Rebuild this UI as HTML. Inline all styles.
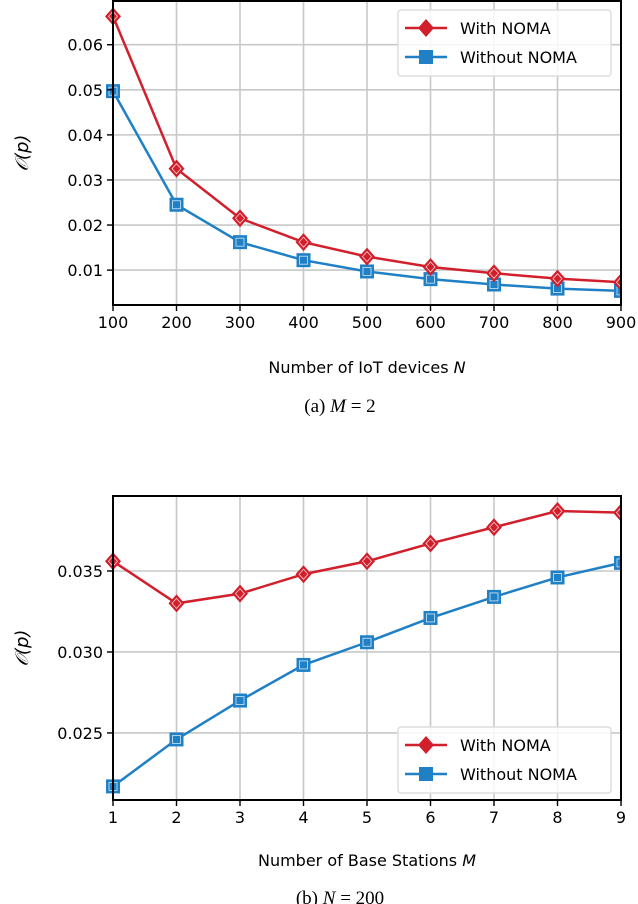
<!DOCTYPE html>
<html><head><meta charset="utf-8"><style>
body{margin:0;background:#fff;width:638px;height:904px;overflow:hidden}
svg{display:block;font-family:"DejaVu Sans","Liberation Sans",sans-serif}
</style></head><body>
<svg id="fig" width="638" height="904" viewBox="0 0 638 904" xmlns="http://www.w3.org/2000/svg"></svg>
<script>
// Chart (a)
const catsA = [100,200,300,400,500,600,700,800,900];
const withA = [0.0663,0.0325,0.0215,0.0162,0.0130,0.0107,0.0093,0.0081,0.0073];
const withoutA = [0.0497,0.0245,0.0162,0.0122,0.0097,0.0080,0.0068,0.0059,0.0054];
const yTicksA = [0.01,0.02,0.03,0.04,0.05,0.06];
const yLabelsA = ["0.01","0.02","0.03","0.04","0.05","0.06"];
// Chart (b)
const catsB = [1,2,3,4,5,6,7,8,9];
const withB = [0.0356,0.0330,0.0336,0.0348,0.0356,0.0367,0.0377,0.0387,0.0386];
const withoutB = [0.0217,0.0246,0.0270,0.0292,0.0306,0.0321,0.0334,0.0346,0.0355];
const yTicksB = [0.025,0.030,0.035];
const yLabelsB = ["0.025","0.030","0.035"];

const NS="http://www.w3.org/2000/svg";
const svg=document.getElementById('fig');
const RED="#d21f2c", BLUE="#1f80c6";
function mk(tag,attrs,parent){const e=document.createElementNS(NS,tag);for(const k in attrs)e.setAttribute(k,attrs[k]);(parent||svg).appendChild(e);return e;}

function chart(o){
  const g=mk('g',{});
  
  
  const L=113,R=621,T=o.top,B=o.bottom;
  const xs=v=>L+(v-o.xmin)/(o.xmax-o.xmin)*(R-L);
  const ys=v=>B-(v-o.ymin)/(o.ymax-o.ymin)*(B-T);
  o.cats.forEach(c=>{const l=mk('line',{x1:xs(c),x2:xs(c),y1:T,y2:B,stroke:'#c8c8c8','stroke-width':1.6},g);
    });
  o.yt.forEach(v=>{const l=mk('line',{x1:L,x2:R,y1:ys(v),y2:ys(v),stroke:'#c8c8c8','stroke-width':1.6},g);
    });
  const clip='clip'+o.name;
  const cp=mk('clipPath',{id:clip},g);mk('rect',{x:L-10,y:T-1,width:R-L+11,height:B-T+2},cp);
  const sw=mk('g',{'clip-path':`url(#${clip})`},g);
  
  const drawInto=(vals,color,marker,nm)=>{const tmp=mk('g',{},sw);
    const pts=o.cats.map((c,i)=>xs(c)+','+ys(vals[i])).join(' ');
    const pl=mk('polyline',{points:pts,fill:'none',stroke:color,'stroke-width':2.5},tmp);
    
    o.cats.forEach((c,i)=>{const x=xs(c),y=ys(vals[i]);let m;
      if(marker==='d'){m=mk('polygon',{points:`${x},${y-9} ${x+8},${y} ${x},${y+9} ${x-8},${y}`,fill:color},tmp);
        mk('polygon',{points:`${x},${y-5} ${x+4.5},${y} ${x},${y+5} ${x-4.5},${y}`,fill:'none',stroke:'#fff','stroke-width':0.8,opacity:0.8},tmp);}
      else{m=mk('rect',{x:x-7,y:y-7,width:14,height:14,fill:color},tmp);
        mk('rect',{x:x-4,y:y-4,width:8,height:8,fill:'none',stroke:'#fff','stroke-width':0.8,opacity:0.8},tmp);}
      });
  };
  drawInto(o.wo,BLUE,'s','without-noma-line');
  drawInto(o.w,RED,'d','with-noma-line');
  const fr=mk('rect',{x:L,y:T,width:R-L,height:B-T,fill:'none',stroke:'#000','stroke-width':2},g);
  
  o.cats.forEach(c=>{mk('line',{x1:xs(c),x2:xs(c),y1:B,y2:B+6,stroke:'#000','stroke-width':1.4},g);
    const t=mk('text',{x:xs(c),y:B+23,'font-size':16,'text-anchor':'middle',fill:'#000'},g);t.textContent=c;
    });
  o.yt.forEach((v,i)=>{mk('line',{x1:L-6,x2:L,y1:ys(v),y2:ys(v),stroke:'#000','stroke-width':1.4},g);
    const t=mk('text',{x:L-10,y:ys(v)+6,'font-size':16,'text-anchor':'end',fill:'#000'},g);t.textContent=o.yl[i];
    });
  const xt=mk('text',{x:(L+R)/2,y:o.xtY,'font-size':16,'text-anchor':'middle'},g);
  xt.innerHTML=o.xtitle+' <tspan font-style="italic">'+o.xvar+'</tspan>';
  
  const yc=(T+B)/2;
  const yt=mk('text',{x:0,y:0,'font-size':18,'text-anchor':'middle','font-style':'italic',transform:`translate(28,${yc}) rotate(-90)`},g);
  yt.textContent='𝒪(p)';
  
  const lg=mk('g',{},g);
  mk('rect',{x:398,y:o.legY,width:213,height:66,rx:3,fill:'#fff','fill-opacity':0.85,stroke:'#ddd','stroke-width':1.5},lg);
  [[RED,'d','With NOMA',o.legY+18],[BLUE,'s','Without NOMA',o.legY+47]].forEach(([c,m,lab,y])=>{
    const e=mk('g',{},lg);
    mk('line',{x1:405,x2:447,y1:y,y2:y,stroke:c,'stroke-width':2.5},e);
    if(m==='d'){mk('polygon',{points:`426,${y-9} 434,${y} 426,${y+9} 418,${y}`,fill:c},e);}
    else mk('rect',{x:419,y:y-7,width:14,height:14,fill:c},e);
    const t=mk('text',{x:460,y:y+6,'font-size':16},e);t.textContent=lab;
  });
  const cap=mk('text',{x:340,y:o.capY,'font-size':19,'text-anchor':'middle','font-family':'Liberation Serif, serif'},g);
  cap.innerHTML=o.cap;
  
}
chart({name:'chart-a',top:1,bottom:305,xmin:100,xmax:900,ymin:0.00226,ymax:0.0697,cats:catsA,w:withA,wo:withoutA,yt:yTicksA,yl:yLabelsA,
  xtitle:'Number of IoT devices',xvar:'N',xtY:373,legY:10,capY:412,cap:'(a) <tspan font-style="italic">M</tspan> = 2'});
chart({name:'chart-b',top:496,bottom:800,xmin:1,xmax:9,ymin:0.02086,ymax:0.03963,cats:catsB,w:withB,wo:withoutB,yt:yTicksB,yl:yLabelsB,
  xtitle:'Number of Base Stations',xvar:'M',xtY:866,legY:727,capY:904,cap:'(b) <tspan font-style="italic">N</tspan> = 200'});
</script>
</body></html>
